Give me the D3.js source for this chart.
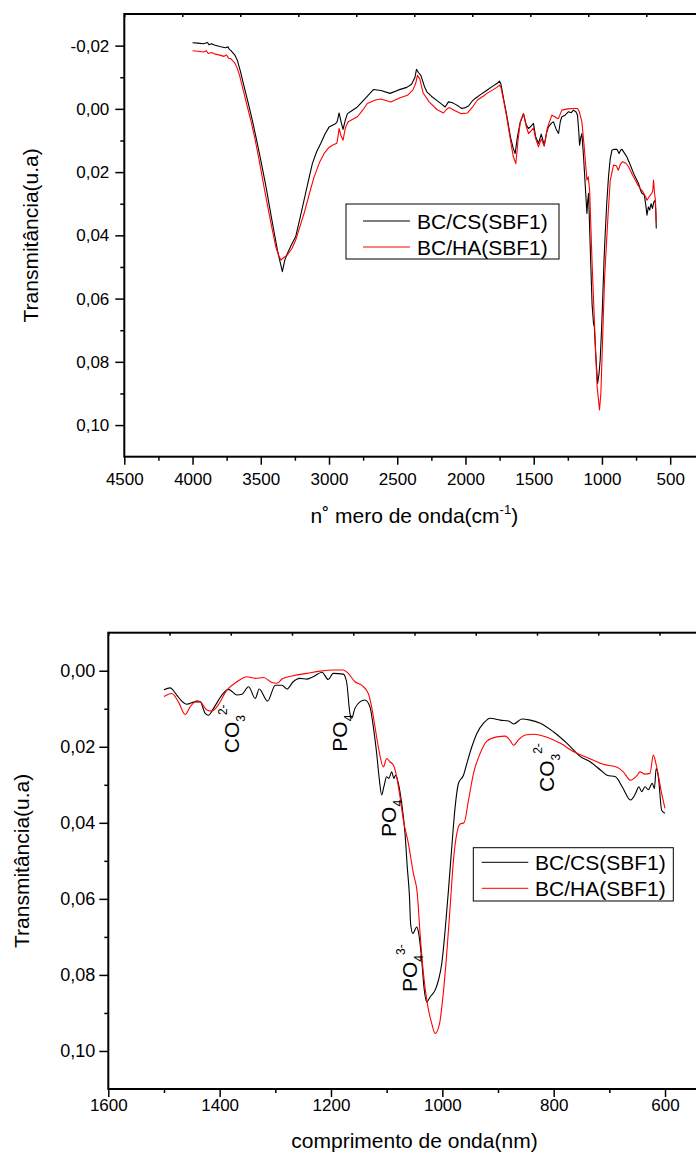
<!DOCTYPE html>
<html>
<head>
<meta charset="utf-8">
<script src="https://cdn.jsdelivr.net/npm/d3@7"></script>
<style>
body{margin:0;background:#fff;}
svg{display:block;}
</style>
</head>
<body>
<div id="chart"></div>
<script>
// ---- data ----
var seriesNames = ["BC/CS(SBF1)", "BC/HA(SBF1)"];
var seriesColors = ["#000000", "#ff0000"];

// top panel: wavenumber (cm-1) vs transmittance
var csTop = [[4000,-0.0209],[3960,-0.0208],[3920,-0.0206],[3890,-0.0210],[3880,-0.0203],[3860,-0.0206],[3840,-0.0202],[3800,-0.0197],[3760,-0.0193],[3740,-0.0196],[3730,-0.0188],[3720,-0.0185],[3690,-0.0170],[3672,-0.0154],[3650,-0.0120],[3622,-0.0070],[3590,-0.0015],[3562,0.0036],[3530,0.0100],[3500,0.0162],[3460,0.0250],[3427,0.0331],[3400,0.0395],[3378,0.0447],[3355,0.0490],[3342,0.0515],[3325,0.0480],[3305,0.0457],[3275,0.0430],[3244,0.0404],[3215,0.0350],[3183,0.0289],[3150,0.0225],[3122,0.0173],[3090,0.0135],[3060,0.0109],[3030,0.0080],[2999,0.0057],[2950,0.0046],[2940,0.0040],[2926,0.0013],[2912,0.0040],[2897,0.0065],[2880,0.0035],[2865,0.0015],[2830,0.0005],[2792,-0.0006],[2730,-0.0035],[2675,-0.0061],[2620,-0.0058],[2552,-0.0049],[2490,-0.0060],[2430,-0.0068],[2395,-0.0078],[2370,-0.0100],[2359,-0.0125],[2345,-0.0115],[2327,-0.0106],[2300,-0.0070],[2283,-0.0054],[2250,-0.0040],[2210,-0.0027],[2175,-0.0015],[2149,-0.0006],[2125,-0.0022],[2100,-0.0020],[2076,-0.0015],[2050,-0.0008],[2027,-0.0001],[2000,-0.0004],[1978,-0.0009],[1950,-0.0025],[1929,-0.0033],[1890,-0.0045],[1843,-0.0059],[1800,-0.0072],[1770,-0.0080],[1751,-0.0088],[1740,-0.0078],[1720,-0.0030],[1700,0.0015],[1670,0.0090],[1650,0.0125],[1636,0.0141],[1620,0.0090],[1600,0.0045],[1575,0.0015],[1555,0.0050],[1538,0.0062],[1520,0.0055],[1502,0.0046],[1485,0.0090],[1465,0.0109],[1445,0.0080],[1435,0.0095],[1423,0.0115],[1405,0.0075],[1392,0.0057],[1370,0.0045],[1355,0.0041],[1335,0.0065],[1318,0.0078],[1305,0.0040],[1294,0.0025],[1270,0.0020],[1245,0.0009],[1225,0.0012],[1208,0.0004],[1190,0.0010],[1179,0.0020],[1170,0.0070],[1164,0.0115],[1155,0.0090],[1147,0.0078],[1135,0.0150],[1120,0.0260],[1110,0.0331],[1104,0.0290],[1098,0.0267],[1085,0.0450],[1072,0.0620],[1062,0.0678],[1056,0.0689],[1045,0.0780],[1032,0.0868],[1022,0.0840],[1013,0.0794],[1003,0.0700],[993,0.0583],[985,0.0480],[976,0.0394],[965,0.0300],[952,0.0215],[940,0.0160],[927,0.0131],[910,0.0128],[890,0.0128],[875,0.0141],[862,0.0130],[853,0.0128],[835,0.0140],[817,0.0152],[790,0.0180],[768,0.0204],[750,0.0220],[732,0.0236],[715,0.0260],[707,0.0267],[690,0.0272],[680,0.0300],[670,0.0336],[660,0.0310],[650,0.0320],[640,0.0300],[630,0.0315],[620,0.0295],[610,0.0289],[605,0.0330],[602,0.0378]];
var haTop = [[4000,-0.0184],[3960,-0.0182],[3920,-0.0180],[3900,-0.0184],[3885,-0.0175],[3860,-0.0178],[3840,-0.0174],[3800,-0.0170],[3770,-0.0166],[3750,-0.0170],[3735,-0.0160],[3720,-0.0159],[3690,-0.0145],[3672,-0.0128],[3655,-0.0105],[3635,-0.0070],[3605,-0.0018],[3573,0.0036],[3540,0.0100],[3512,0.0162],[3475,0.0250],[3439,0.0331],[3412,0.0390],[3390,0.0436],[3370,0.0462],[3353,0.0478],[3330,0.0470],[3305,0.0462],[3270,0.0440],[3244,0.0415],[3215,0.0375],[3183,0.0331],[3145,0.0270],[3109,0.0215],[3070,0.0170],[3036,0.0141],[3000,0.0122],[2975,0.0115],[2943,0.0109],[2935,0.0090],[2926,0.0062],[2912,0.0085],[2897,0.0099],[2880,0.0060],[2860,0.0041],[2792,0.0025],[2755,0.0005],[2719,-0.0017],[2660,-0.0028],[2620,-0.0031],[2547,-0.0022],[2480,-0.0035],[2425,-0.0043],[2385,-0.0060],[2365,-0.0080],[2352,-0.0106],[2335,-0.0095],[2310,-0.0050],[2266,-0.0022],[2210,0.0002],[2161,0.0013],[2140,0.0002],[2120,-0.0004],[2080,0.0005],[2034,0.0015],[1985,0.0013],[1950,-0.0005],[1912,-0.0028],[1870,-0.0040],[1843,-0.0049],[1800,-0.0060],[1770,-0.0068],[1751,-0.0075],[1740,-0.0068],[1720,-0.0025],[1700,0.0020],[1670,0.0100],[1650,0.0150],[1631,0.0173],[1615,0.0100],[1598,0.0040],[1575,0.0015],[1555,0.0055],[1538,0.0078],[1520,0.0070],[1502,0.0060],[1485,0.0095],[1465,0.0120],[1445,0.0095],[1435,0.0105],[1423,0.0118],[1400,0.0060],[1367,0.0020],[1345,0.0025],[1330,0.0030],[1318,0.0030],[1294,0.0004],[1250,0.0000],[1208,-0.0001],[1179,-0.0001],[1165,0.0010],[1147,0.0041],[1130,0.0120],[1110,0.0225],[1100,0.0215],[1090,0.0260],[1073,0.0478],[1060,0.0620],[1049,0.0741],[1035,0.0880],[1018,0.0952],[1008,0.0900],[1000,0.0794],[990,0.0660],[980,0.0531],[956,0.0341],[939,0.0225],[915,0.0178],[895,0.0180],[880,0.0194],[865,0.0175],[849,0.0167],[825,0.0172],[805,0.0183],[780,0.0205],[756,0.0225],[738,0.0240],[720,0.0252],[700,0.0262],[680,0.0278],[670,0.0289],[650,0.0275],[635,0.0267],[628,0.0260],[622,0.0225],[615,0.0265],[608,0.0290],[602,0.0357]];

// bottom panel: wavelength (nm) vs transmittance
var csBot = [[1500,0.0050],[1489,0.0045],[1477,0.0064],[1468,0.0080],[1459,0.0088],[1444,0.0082],[1435,0.0082],[1426,0.0112],[1420,0.0117],[1411,0.0099],[1396,0.0064],[1384,0.0049],[1369,0.0064],[1360,0.0062],[1348,0.0042],[1336,0.0073],[1329,0.0048],[1314,0.0080],[1300,0.0038],[1288,0.0038],[1279,0.0048],[1268,0.0029],[1256,0.0020],[1243,0.0022],[1232,0.0016],[1216,0.0004],[1205,0.0023],[1196,0.0007],[1178,0.0009],[1172,0.0029],[1166,0.0112],[1163,0.0125],[1157,0.0099],[1148,0.0082],[1139,0.0077],[1130,0.0095],[1124,0.0147],[1118,0.0217],[1113,0.0288],[1109,0.0327],[1105,0.0305],[1100,0.0279],[1096,0.0283],[1091,0.0266],[1087,0.0283],[1084,0.0275],[1079,0.0296],[1073,0.0349],[1067,0.0428],[1063,0.0516],[1059,0.0595],[1057,0.0665],[1053,0.0691],[1046,0.0674],[1043,0.0687],[1037,0.0761],[1033,0.0832],[1028,0.0871],[1022,0.0858],[1013,0.0840],[1007,0.0814],[1001,0.0770],[995,0.0683],[989,0.0577],[983,0.0463],[977,0.0358],[971,0.0296],[962,0.0275],[956,0.0244],[947,0.0200],[938,0.0165],[926,0.0138],[914,0.0125],[896,0.0130],[881,0.0132],[872,0.0140],[857,0.0127],[842,0.0130],[824,0.0138],[800,0.0161],[776,0.0191],[752,0.0226],[734,0.0240],[716,0.0261],[704,0.0275],[689,0.0279],[677,0.0305],[662,0.0340],[653,0.0323],[647,0.0305],[642,0.0318],[636,0.0305],[630,0.0313],[623,0.0296],[619,0.0310],[616,0.0257],[612,0.0279],[606,0.0367],[600,0.0375]];
var haBot = [[1500,0.0068],[1486,0.0060],[1474,0.0082],[1462,0.0115],[1453,0.0095],[1441,0.0079],[1435,0.0081],[1423,0.0103],[1414,0.0106],[1405,0.0095],[1387,0.0051],[1369,0.0029],[1351,0.0016],[1336,0.0020],[1321,0.0018],[1306,0.0031],[1297,0.0033],[1288,0.0022],[1268,0.0013],[1243,0.0007],[1220,0.0001],[1196,-0.0002],[1178,-0.0002],[1169,0.0007],[1157,0.0029],[1145,0.0038],[1133,0.0060],[1127,0.0095],[1121,0.0147],[1115,0.0200],[1106,0.0253],[1100,0.0231],[1094,0.0240],[1088,0.0248],[1082,0.0279],[1076,0.0332],[1070,0.0393],[1061,0.0454],[1052,0.0533],[1045,0.0586],[1040,0.0691],[1034,0.0796],[1027,0.0875],[1019,0.0928],[1013,0.0954],[1005,0.0928],[999,0.0858],[993,0.0761],[986,0.0621],[980,0.0498],[974,0.0428],[968,0.0403],[961,0.0400],[953,0.0340],[944,0.0270],[932,0.0217],[920,0.0185],[902,0.0174],[887,0.0172],[878,0.0184],[872,0.0196],[863,0.0181],[851,0.0169],[836,0.0167],[812,0.0175],[788,0.0191],[764,0.0213],[740,0.0228],[711,0.0246],[686,0.0254],[675,0.0266],[662,0.0288],[650,0.0275],[645,0.0266],[636,0.0272],[627,0.0270],[621,0.0222],[615,0.0253],[606,0.0323],[600,0.0362]];

var topXTicks = [4500,4000,3500,3000,2500,2000,1500,1000,500];
var topXMinor = [4250,3750,3250,2750,2250,1750,1250,750,250];
var topYTicks = [-0.02,0.00,0.02,0.04,0.06,0.08,0.10];
var topYMinor = [-0.01,0.01,0.03,0.05,0.07,0.09];
var botXTicks = [1600,1400,1200,1000,800,600];
var botXMinor = [1500,1300,1100,900,700];
var botYTicks = [0.00,0.02,0.04,0.06,0.08,0.10];
var botYMinor = [0.01,0.03,0.05,0.07,0.09];

// band labels on the bottom panel: [wavelength, transmittance, main, sub, sup]
var bandLabels = [[1366,0.0217,"CO","3","2-"],[1172,0.0213,"PO","4",""],[1083,0.0437,"PO","4",""],[1046,0.0845,"PO","4","3-"],[800,0.0319,"CO","3","2-"]];

// ---- drawing ----
var FONT = "'Liberation Sans', Arial, sans-serif";
var loc = d3.formatLocale({decimal: ",", thousands: ".", grouping: [3], currency: ["", ""], minus: "-"});
var fmtY = loc.format(".2f");

var svg = d3.select("#chart").append("svg")
	.attr("width", 696)
	.attr("height", 1158)
	.style("font-family", FONT);

function panel(cfg){
	var x = d3.scaleLinear().domain(cfg.xDomain).range([cfg.left, cfg.right]);
	var y = d3.scaleLinear().domain(cfg.yDomain).range([cfg.top, cfg.bottom]);
	var g = svg.append("g");

	// bottom axis
	var ax = g.append("g").attr("transform", "translate(0," + cfg.bottom + ")")
		.call(d3.axisBottom(x).tickValues(cfg.xTicks).tickSize(8).tickPadding(cfg.xPad).tickFormat(d3.format("d")));
	g.append("g").attr("transform", "translate(0," + cfg.bottom + ")")
		.call(d3.axisBottom(x).tickValues(cfg.xMinor).tickSize(4).tickFormat(""));
	// left axis
	var ay = g.append("g").attr("transform", "translate(" + cfg.left + ",0)")
		.call(d3.axisLeft(y).tickValues(cfg.yTicks).tickSize(9).tickPadding(cfg.yPad).tickFormat(fmtY));
	g.append("g").attr("transform", "translate(" + cfg.left + ",0)")
		.call(d3.axisLeft(y).tickValues(cfg.yMinor).tickSize(4).tickFormat(""));
	// top mirror ticks (10 equal divisions, pointing inward)
	var xt = d3.scaleLinear().domain([0, 10]).range([cfg.left, cfg.right]);
	g.append("g").attr("transform", "translate(0," + cfg.top + ")")
		.call(d3.axisBottom(xt).ticks(10).tickSize(3).tickFormat(""));

	g.selectAll(".domain").remove();
	g.selectAll(".tick line").attr("stroke", "#000").attr("stroke-width", 1.5);
	ax.attr("font-family", FONT).attr("font-size", cfg.xFont);
	ay.attr("font-family", FONT).attr("font-size", cfg.yFont);
	g.selectAll(".tick text").attr("fill", "#000");

	// frame (right side falls outside the page)
	g.append("rect")
		.attr("x", cfg.left).attr("y", cfg.top)
		.attr("width", cfg.right - cfg.left).attr("height", cfg.bottom - cfg.top)
		.attr("fill", "none").attr("stroke", "#000").attr("stroke-width", 2);

	// curves
	var line = d3.line()
		.x(function(d){ return x(d[0]); })
		.y(function(d){ return y(d[1]); })
		.curve(cfg.curve);
	cfg.series.forEach(function(s, i){
		g.append("path").datum(s)
			.attr("d", line)
			.attr("fill", "none")
			.attr("stroke", seriesColors[i])
			.attr("stroke-width", 1.1)
			.attr("stroke-linejoin", "round");
	});

	// axis titles
	var xt2 = g.append("text")
		.attr("x", (cfg.left + cfg.right) / 2).attr("y", cfg.xTitleY)
		.attr("text-anchor", "middle").attr("font-size", 21).attr("fill", "#000");
	cfg.xTitle(xt2);
	g.append("text")
		.attr("transform", "translate(" + cfg.yTitleX + "," + (cfg.top + cfg.bottom) / 2 + ") rotate(-90)")
		.attr("text-anchor", "middle").attr("font-size", 21).attr("fill", "#000")
		.text("Transmitância(u.a)");

	// legend
	var L = cfg.legend;
	var lg = g.append("g");
	lg.append("rect").attr("x", L.x).attr("y", L.y).attr("width", L.w).attr("height", L.h)
		.attr("fill", "#fff").attr("stroke", "#000").attr("stroke-width", 1);
	seriesNames.forEach(function(n, i){
		var yy = L.y + L.first + i * L.step;
		lg.append("line").attr("x1", L.x + L.l1).attr("x2", L.x + L.l2)
			.attr("y1", yy).attr("y2", yy)
			.attr("stroke", seriesColors[i]).attr("stroke-width", 1);
		lg.append("text").attr("x", L.x + L.tx).attr("y", yy + 7.5)
			.attr("font-size", 21).attr("fill", "#000").text(n);
	});

	return {x: x, y: y, g: g};
}

var p1 = panel({
	left: 124.3, right: 704.3, top: 14, bottom: 456.7,
	xDomain: [4500, 250], yDomain: [-0.03, 0.11],
	xTicks: topXTicks, xMinor: topXMinor, yTicks: topYTicks, yMinor: topYMinor,
	xPad: 8, yPad: 6, xFont: 17, yFont: 17,
	series: [csTop, haTop], curve: d3.curveLinear,
	xTitleY: 523, yTitleX: 38,
	xTitle: function(t){
		t.append("tspan").text("n˚ mero de onda(cm");
		t.append("tspan").attr("font-size", 13).attr("dy", -9).text("-1");
		t.append("tspan").attr("dy", 9).text(")");
	},
	legend: {x: 346, y: 204, w: 213, h: 55, first: 17, step: 26, l1: 17, l2: 64, tx: 71}
});

var p2 = panel({
	left: 108.3, right: 720.7, top: 632.7, bottom: 1089,
	xDomain: [1600, 500], yDomain: [-0.01, 0.11],
	xTicks: botXTicks, xMinor: botXMinor, yTicks: botYTicks, yMinor: botYMinor,
	xPad: 2, yPad: 4, xFont: 17, yFont: 18,
	series: [csBot, haBot], curve: d3.curveMonotoneX,
	xTitleY: 1148, yTitleX: 29,
	xTitle: function(t){ t.text("comprimento de onda(nm)"); },
	legend: {x: 473.3, y: 847.7, w: 200, h: 53.3, first: 14.6, step: 26, l1: 8.4, l2: 55, tx: 61.7}
});

// band assignments, rotated
bandLabels.forEach(function(b){
	var t = p2.g.append("text")
		.attr("transform", "translate(" + p2.x(b[0]) + "," + p2.y(b[1]) + ") rotate(-90)")
		.attr("font-size", 21).attr("fill", "#000");
	t.append("tspan").text(b[2]);
	t.append("tspan").attr("font-size", 12).attr("dy", 6).text(b[3]);
	if (b[4]) t.append("tspan").attr("font-size", 12).attr("dy", -18).text(b[4]);
});
</script>
</body>
</html>
